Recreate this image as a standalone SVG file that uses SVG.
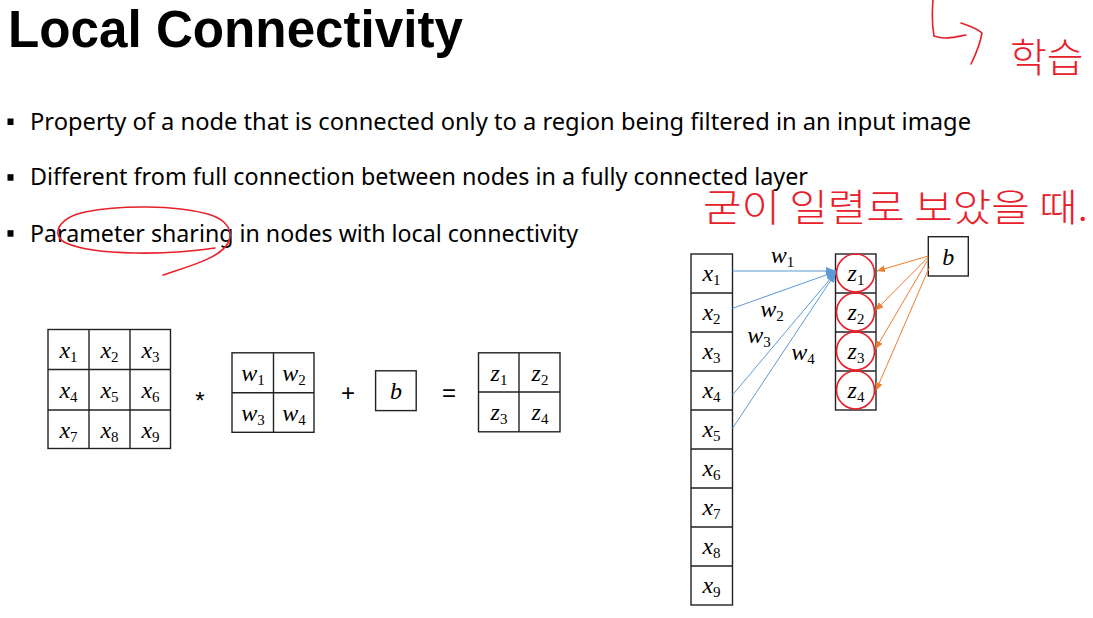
<svg xmlns="http://www.w3.org/2000/svg" width="1093" height="618" viewBox="0 0 1093 618">
<style>
.title{font-family:"Liberation Sans","Noto Sans",sans-serif;font-weight:bold;font-size:51px;fill:#000}
.bul{font-family:"Noto Sans","Open Sans","Liberation Sans",sans-serif;font-size:23px;fill:#000}
.m{font-family:"Liberation Serif","DejaVu Serif",serif;font-style:italic;font-size:24px;fill:#000;text-anchor:middle}
.m tspan{font-style:normal;font-size:15px}
.op{font-family:"Liberation Sans","DejaVu Sans",sans-serif;font-size:24px;fill:#000;text-anchor:middle}
.cell{fill:#fff;stroke:#222;stroke-width:1.4}
.blue{stroke:#5B9BD5;stroke-width:1;fill:none}
.orange{stroke:#ED7D31;stroke-width:1;fill:none}
.ink{fill:none;stroke:#E8202A;stroke-width:1.6;stroke-linecap:round;stroke-linejoin:round}
.hand{font-family:"Noto Sans CJK KR","Noto Sans",sans-serif;font-weight:300;fill:#E8202A}
</style>
<defs>
<marker id="ab" viewBox="0 0 10 8" refX="10" refY="4" markerWidth="10" markerHeight="8" markerUnits="userSpaceOnUse" orient="auto"><path d="M0,0 L10,4 L0,8 Z" fill="#5B9BD5"/></marker>
<marker id="ao" viewBox="0 0 8 7" refX="8" refY="3.5" markerWidth="8" markerHeight="7" markerUnits="userSpaceOnUse" orient="auto"><path d="M0,0 L8,3.5 L0,7 Z" fill="#ED7D31"/></marker>
</defs>
<rect width="1093" height="618" fill="#fff"/>

<g id="title"><text class="title" x="8" y="47" textLength="455" lengthAdjust="spacingAndGlyphs">Local Connectivity</text></g>

<g id="bullets">
<rect x="7.5" y="118.5" width="6" height="6.5" fill="#000"/>
<text class="bul" x="30" y="129.5" textLength="941" lengthAdjust="spacingAndGlyphs">Property of a node that is connected only to a region being filtered in an input image</text>
<rect x="7.5" y="174.2" width="6" height="6.5" fill="#000"/>
<text class="bul" x="30" y="185.2" textLength="778" lengthAdjust="spacingAndGlyphs">Different from full connection between nodes in a fully connected layer</text>
<rect x="7.5" y="230.2" width="6" height="6.5" fill="#000"/>
<text class="bul" x="30" y="241.5" textLength="548" lengthAdjust="spacingAndGlyphs">Parameter sharing in nodes with local connectivity</text>
</g>

<g id="input-grid">
<rect class="cell" x="48" y="329.5" width="122.5" height="119"/>
<line x1="89" y1="329.5" x2="89" y2="448.5" stroke="#222" stroke-width="1.4"/>
<line x1="130" y1="329.5" x2="130" y2="448.5" stroke="#222" stroke-width="1.4"/>
<line x1="48" y1="369.5" x2="170.5" y2="369.5" stroke="#222" stroke-width="1.4"/>
<line x1="48" y1="410" x2="170.5" y2="410" stroke="#222" stroke-width="1.4"/>
<text class="m" x="68.5" y="358">x<tspan dy="4">1</tspan></text>
<text class="m" x="109.5" y="358">x<tspan dy="4">2</tspan></text>
<text class="m" x="150.5" y="358">x<tspan dy="4">3</tspan></text>
<text class="m" x="68.5" y="398">x<tspan dy="4">4</tspan></text>
<text class="m" x="109.5" y="398">x<tspan dy="4">5</tspan></text>
<text class="m" x="150.5" y="398">x<tspan dy="4">6</tspan></text>
<text class="m" x="68.5" y="437.5">x<tspan dy="4">7</tspan></text>
<text class="m" x="109.5" y="437.5">x<tspan dy="4">8</tspan></text>
<text class="m" x="150.5" y="437.5">x<tspan dy="4">9</tspan></text>
</g>

<g id="op-star"><text class="op" x="200" y="409" font-size="20">*</text></g>

<g id="weight-grid">
<rect class="cell" x="232" y="352.8" width="82" height="79.5"/>
<line x1="273.5" y1="352.8" x2="273.5" y2="432.3" stroke="#222" stroke-width="1.4"/>
<line x1="232" y1="392.8" x2="314" y2="392.8" stroke="#222" stroke-width="1.4"/>
<text class="m" x="253" y="381">w<tspan dy="4">1</tspan></text>
<text class="m" x="294" y="381">w<tspan dy="4">2</tspan></text>
<text class="m" x="253" y="420.5">w<tspan dy="4">3</tspan></text>
<text class="m" x="294" y="420.5">w<tspan dy="4">4</tspan></text>
</g>

<g id="op-plus"><text class="op" x="348" y="400.5">+</text></g>

<g id="bias-left">
<rect class="cell" x="375.6" y="370.8" width="40.6" height="39.8"/>
<text class="m" x="396" y="398.5">b</text>
</g>

<g id="op-eq"><text class="op" x="449" y="400.5">=</text></g>

<g id="output-grid">
<rect class="cell" x="478.5" y="352.8" width="81.5" height="79"/>
<line x1="519" y1="352.8" x2="519" y2="431.8" stroke="#222" stroke-width="1.4"/>
<line x1="478.5" y1="392" x2="560" y2="392" stroke="#222" stroke-width="1.4"/>
<text class="m" x="499" y="380.5">z<tspan dy="4">1</tspan></text>
<text class="m" x="540" y="380.5">z<tspan dy="4">2</tspan></text>
<text class="m" x="499" y="420">z<tspan dy="4">3</tspan></text>
<text class="m" x="540" y="420">z<tspan dy="4">4</tspan></text>
</g>

<g id="x-column">
<rect class="cell" x="691" y="254" width="41.5" height="351"/>
<g stroke="#222" stroke-width="1.4">
<line x1="691" y1="293" x2="732.5" y2="293"/>
<line x1="691" y1="332" x2="732.5" y2="332"/>
<line x1="691" y1="371" x2="732.5" y2="371"/>
<line x1="691" y1="410" x2="732.5" y2="410"/>
<line x1="691" y1="449" x2="732.5" y2="449"/>
<line x1="691" y1="488" x2="732.5" y2="488"/>
<line x1="691" y1="527" x2="732.5" y2="527"/>
<line x1="691" y1="566" x2="732.5" y2="566"/>
</g>
<text class="m" x="711.5" y="281">x<tspan dy="4">1</tspan></text>
<text class="m" x="711.5" y="320">x<tspan dy="4">2</tspan></text>
<text class="m" x="711.5" y="359">x<tspan dy="4">3</tspan></text>
<text class="m" x="711.5" y="398">x<tspan dy="4">4</tspan></text>
<text class="m" x="711.5" y="437">x<tspan dy="4">5</tspan></text>
<text class="m" x="711.5" y="476">x<tspan dy="4">6</tspan></text>
<text class="m" x="711.5" y="515">x<tspan dy="4">7</tspan></text>
<text class="m" x="711.5" y="554">x<tspan dy="4">8</tspan></text>
<text class="m" x="711.5" y="593">x<tspan dy="4">9</tspan></text>
</g>

<g id="z-column">
<rect class="cell" x="835.5" y="254" width="40.5" height="156"/>
<g stroke="#222" stroke-width="1.4">
<line x1="835.5" y1="293" x2="876" y2="293"/>
<line x1="835.5" y1="332" x2="876" y2="332"/>
<line x1="835.5" y1="371" x2="876" y2="371"/>
</g>
<text class="m" x="856" y="281">z<tspan dy="4">1</tspan></text>
<text class="m" x="856" y="320">z<tspan dy="4">2</tspan></text>
<text class="m" x="856" y="359">z<tspan dy="4">3</tspan></text>
<text class="m" x="856" y="398">z<tspan dy="4">4</tspan></text>
</g>

<g id="bias-right">
<rect class="cell" x="928.3" y="236.7" width="40" height="39.3"/>
<text class="m" x="948.3" y="264.5">b</text>
</g>

<g id="connectors">
<line class="blue" x1="732.5" y1="271" x2="836" y2="271" marker-end="url(#ab)"/>
<line class="blue" x1="732.5" y1="308.3" x2="836" y2="271.5" marker-end="url(#ab)"/>
<line class="blue" x1="732.5" y1="395" x2="836" y2="272" marker-end="url(#ab)"/>
<line class="blue" x1="732.5" y1="428.3" x2="836" y2="272.5" marker-end="url(#ab)"/>
<line class="orange" x1="928.3" y1="256" x2="877" y2="271" marker-end="url(#ao)"/>
<line class="orange" x1="928.3" y1="257" x2="875.5" y2="310.5" marker-end="url(#ao)"/>
<line class="orange" x1="928.3" y1="259" x2="875.5" y2="349" marker-end="url(#ao)"/>
<line class="orange" x1="929.5" y1="267" x2="876" y2="390.5" marker-end="url(#ao)"/>
<text class="m" x="782.5" y="263">w<tspan dy="4">1</tspan></text>
<text class="m" x="772" y="317">w<tspan dy="4">2</tspan></text>
<text class="m" x="759" y="343">w<tspan dy="4">3</tspan></text>
<text class="m" x="803" y="360">w<tspan dy="4">4</tspan></text>
</g>

<g id="annotations">
<circle class="ink" cx="855.5" cy="273" r="19"/>
<circle class="ink" cx="855.5" cy="312" r="19"/>
<circle class="ink" cx="855.5" cy="351" r="19"/>
<circle class="ink" cx="855.5" cy="390" r="19"/>
<path class="ink" d="M215 248 C170 255 95 256 66 243 C50 235 58 218 85 212 C120 205 175 205 208 214 C228 220 234 232 228 243 C220 258 190 266 163 275"/>
<path class="ink" d="M933 0 C932 12 932 25 934 36 C945 40 955 37 966 35"/>
<path class="ink" d="M961 23 C970 26 978 29 982 33 C980 44 976 54 971 64"/>
<text class="hand" x="1010" y="72" font-size="40">학습</text>
<text class="hand" x="703" y="221" font-size="38" textLength="385" lengthAdjust="spacingAndGlyphs">굳이 일렬로 보았을 때.</text>
</g>
</svg>
